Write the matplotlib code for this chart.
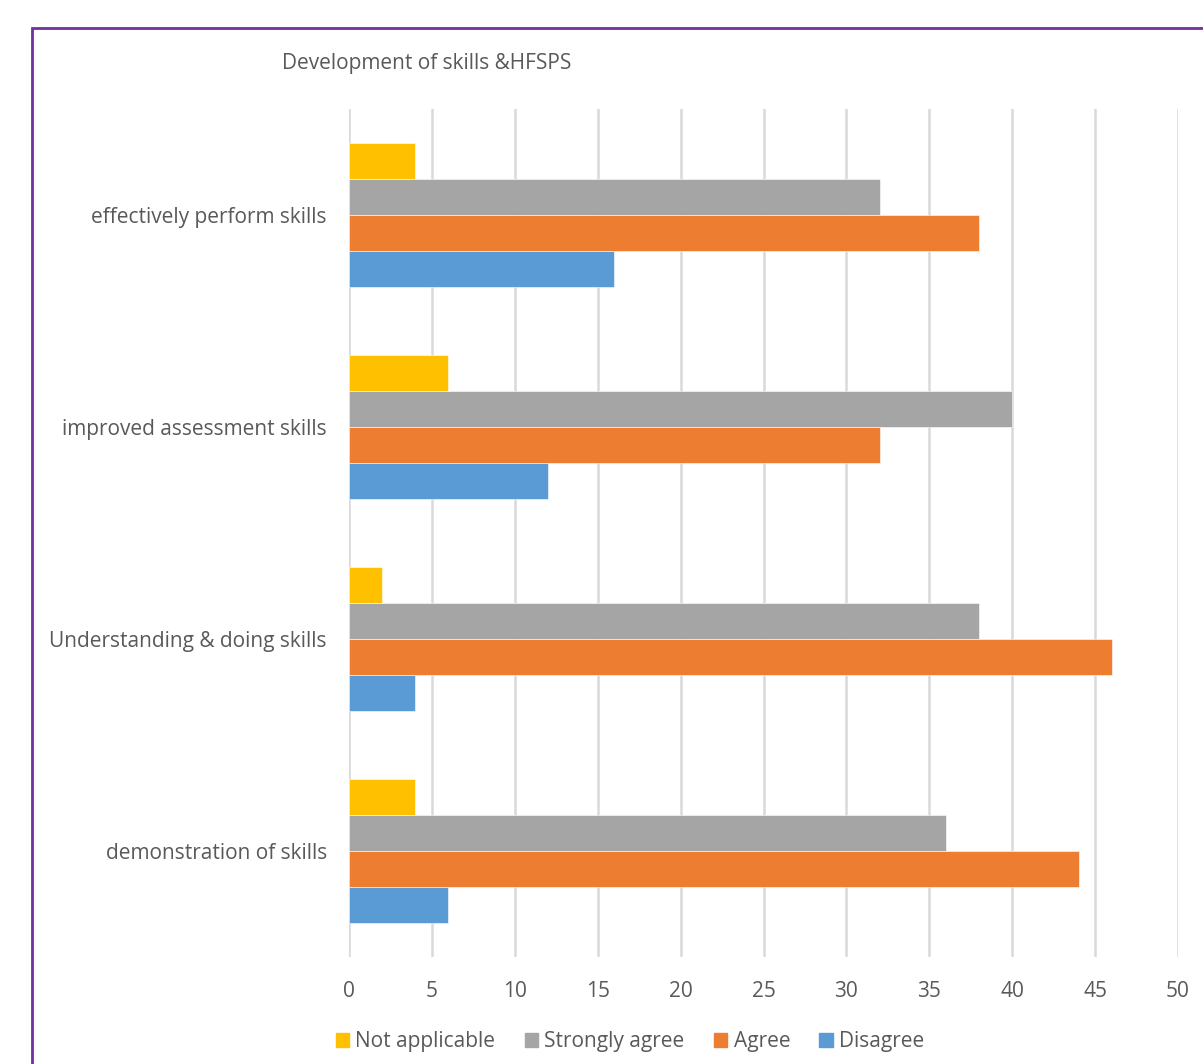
import numpy as np
import matplotlib.pyplot as plt
from matplotlib.patches import Rectangle, Patch

plt.rcParams['font.family'] = ['Open Sans', 'DejaVu Sans']

# Survey responses per statement (bottom to top on the chart)
categories = ['demonstration of skills', 'Understanding & doing skills',
              'improved assessment skills', 'effectively perform skills']
disagree = [6, 4, 12, 16]
agree = [44, 46, 32, 38]
strongly_agree = [36, 38, 40, 32]
not_applicable = [4, 2, 6, 4]

series = [('Disagree', disagree, '#5b9bd5'),
          ('Agree', agree, '#ed7d31'),
          ('Strongly agree', strongly_agree, '#a5a5a5'),
          ('Not applicable', not_applicable, '#ffc000')]

W, H = 1203, 1064
fig = plt.figure(figsize=(W / 100, H / 100), dpi=100)

# purple frame around the chart area (runs off the right/bottom edge)
fig.patches.append(Rectangle((32 / W, -0.05), 1.1, (H - 28) / H + 0.05,
                             transform=fig.transFigure, fill=False,
                             edgecolor='#7030a0', linewidth=2.0))

ax = fig.add_axes([349 / W, 107 / H, (1178 - 349) / W, 848 / H])

y = np.arange(len(categories))
bar_h = 0.17
offsets = np.array([-1.5, -0.5, 0.5, 1.5]) * bar_h
for (name, vals, color), off in zip(series, offsets):
    ax.barh(y + off, vals, height=bar_h, color=color, label=name,
            edgecolor='white', linewidth=0.4, zorder=3)

ax.set_xlim(0, 50)
ax.set_ylim(-0.5, 3.5)
ax.set_xticks(np.arange(0, 51, 5))
ax.set_yticks(y)
ax.set_yticklabels(categories)
ax.grid(axis='x', color='#d9d9d9', linewidth=1.8, zorder=0)
ax.set_axisbelow(True)
for s in ax.spines.values():
    s.set_visible(False)
ax.tick_params(axis='both', length=0, labelsize=15, labelcolor='#595959')
ax.tick_params(axis='x', pad=17)
ax.tick_params(axis='y', pad=16)

fig.text(282 / W, 1 - 64 / H, 'Development of skills &HFSPS', fontsize=15,
         color='#595959', va='center', ha='left')

handles = [Patch(color=c, label=n) for n, v, c in reversed(series)]
fig.legend(handles=handles, loc='center', bbox_to_anchor=(630 / W, 1 - 1042 / H),
           ncol=4, frameon=False, fontsize=15, labelcolor='#595959',
           handlelength=0.65, handleheight=0.65, handletextpad=0.3,
           columnspacing=1.4)

fig.savefig('out.png', dpi=100)
